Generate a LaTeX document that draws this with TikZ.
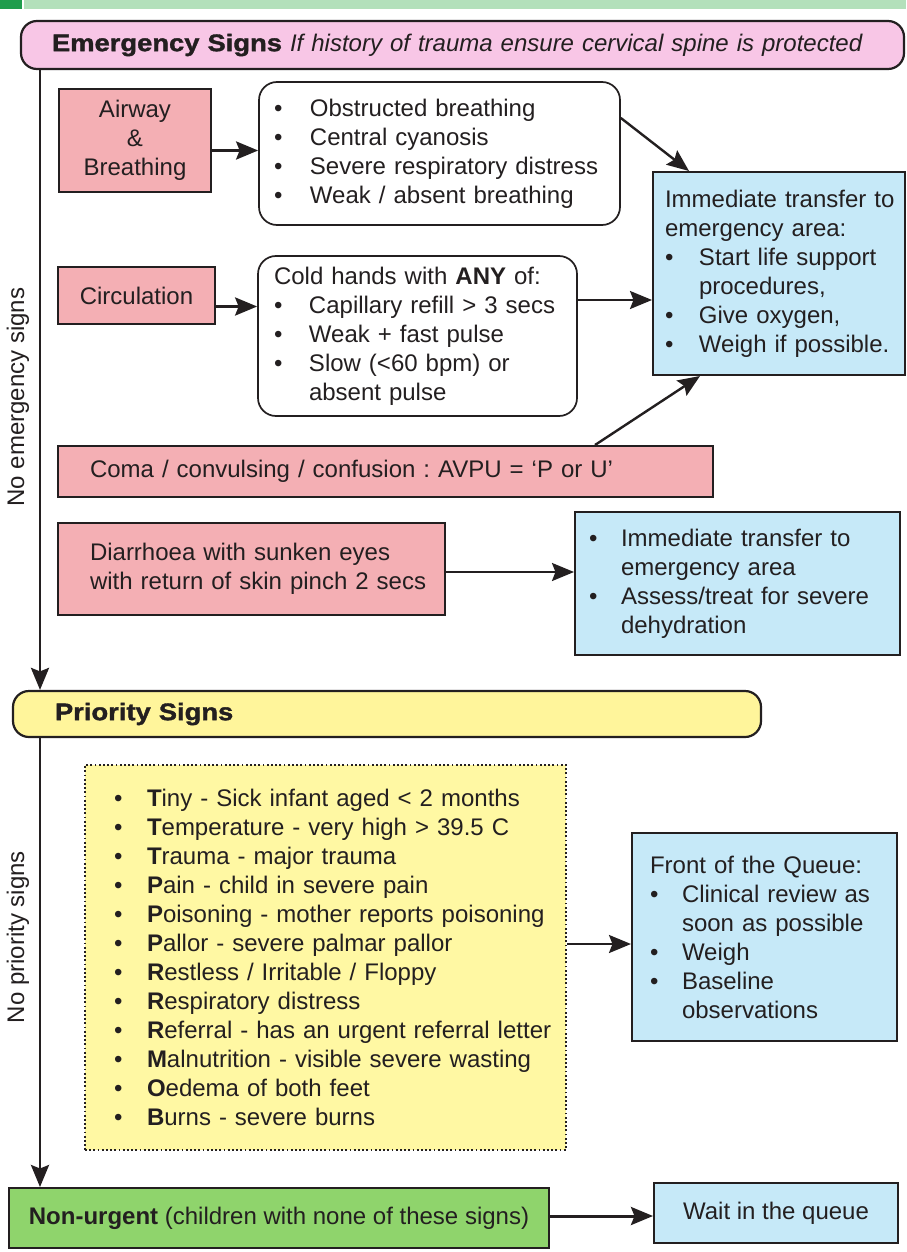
\documentclass[tikz,border=0pt]{standalone}
\usepackage{fontspec}
\setmainfont{Liberation Sans}
\newfontfamily\heavyfont[FakeStretch=1.14,FakeBold=1.5]{Liberation Sans}
\usetikzlibrary{arrows.meta}
\frenchspacing
\definecolor{txt}{HTML}{231F20}
\definecolor{pinkhdr}{HTML}{F8C6E6}
\definecolor{redfill}{HTML}{F4AFB4}
\definecolor{bluefill}{HTML}{C6E9F8}
\definecolor{yelhdr}{HTML}{FFF59B}
\definecolor{yelbox}{HTML}{FFF8A3}
\definecolor{grnfill}{HTML}{8FD46C}
\definecolor{bandlight}{HTML}{B3E0BB}
\definecolor{banddark}{HTML}{1F9D4D}
\newlength\bw
\newcommand\bul[1]{\mbox{\makebox[\bw][l]{\textbullet}#1}}
\newcommand\cont[1]{\mbox{\hspace*{\bw}#1}}
\tikzset{
  base/.style={draw=txt, line width=2pt, inner ysep=0pt, text=txt,
    font=\fontsize{24}{29}\selectfont\frenchspacing},
  redbox/.style={base, fill=redfill},
  whbox/.style={base, fill=white, rounded corners=18pt, line width=1.7pt},
  bluebox/.style={base, fill=bluefill},
  hdrbox/.style={base, rounded corners=16pt, line width=2.2pt},
  arr/.style={draw=txt, line width=2.4pt, -{Stealth[length=22pt,width=18pt,inset=3.5pt]}},
  thickarr/.style={arr, line width=3pt},
  vlabel/.style={rotate=90, text=txt, font=\fontsize{24}{29}\selectfont},
}
\begin{document}
\begin{tikzpicture}[x=1pt,y=-1pt]
\useasboundingbox (0,0) rectangle (906,1252);
\fill[white] (0,0) rectangle (906,1252);
% top band
\fill[banddark] (0,0) rectangle (22,9);
\fill[bandlight] (24,0) rectangle (906,9);

% headers
\node[hdrbox, fill=pinkhdr, minimum width=883pt, minimum height=48pt,
  inner xsep=31pt, text width=821pt, align=left] (hdr) at (462.5,45)
  {{\heavyfont\bfseries Emergency Signs} \textit{If history of trauma ensure cervical spine is protected}};

\node[hdrbox, fill=yelhdr, minimum width=748pt, minimum height=46pt,
  inner xsep=42pt, text width=664pt, align=left] (prio) at (387,714)
  {{\heavyfont\bfseries Priority Signs}};

% emergency section
\node[redbox, minimum width=152pt, minimum height=103pt, align=center] (air) at (135,140.5)
  {Airway\\\&\\Breathing};
\node[whbox, minimum width=361pt, minimum height=143pt, inner xsep=15pt, text width=331pt, align=left]
  (bb1) at (439.5,153.5)
  {\setlength\bw{36pt}\bul{Obstructed breathing}\\\bul{Central cyanosis}\\\bul{Severe respiratory distress}\\\bul{Weak / absent breathing}};

\node[redbox, minimum width=157pt, minimum height=57pt, align=center] (circ) at (136.5,295.5)
  {Circulation};
\node[whbox, minimum width=319pt, minimum height=160pt, inner xsep=16pt, text width=287pt, align=left]
  (bb2) at (417.5,336)
  {\setlength\bw{35pt}\mbox{Cold hands with \textbf{ANY} of:}\\\bul{Capillary refill > 3 secs}\\\bul{Weak + fast pulse}\\\bul{Slow (<60 bpm) or}\\\cont{absent pulse}};

\node[bluebox, minimum width=252pt, minimum height=203pt, inner xsep=12pt, text width=228pt, align=left]
  (blue1) at (779,273.5)
  {\setlength\bw{34pt}\mbox{Immediate transfer to}\\\mbox{emergency area:}\\\bul{Start life support}\\\cont{procedures,}\\\bul{Give oxygen,}\\\bul{Weigh if possible.}};

\node[redbox, minimum width=655pt, minimum height=51pt, inner xsep=32pt, text width=591pt, align=left]
  (coma) at (385.5,471.5)
  {Coma / convulsing / confusion : AVPU = ‘P or U’};

\node[redbox, minimum width=387pt, minimum height=92pt, inner xsep=32pt, text width=323pt, align=left]
  (diar) at (251.5,569)
  {\mbox{Diarrhoea with sunken eyes}\\\mbox{with return of skin pinch 2 secs}};

\node[bluebox, minimum width=325pt, minimum height=143pt, inner xsep=14pt, text width=297pt, align=left]
  (blue2) at (737.5,583.5)
  {\setlength\bw{32pt}\bul{Immediate transfer to}\\\cont{emergency area}\\\bul{Assess/treat for severe}\\\cont{dehydration}};

% priority section
\node[base, fill=yelbox, dash pattern=on 1.8pt off 2.4pt, minimum width=481pt, minimum height=385pt,
  inner xsep=29pt, text width=423pt, align=left] (ylist) at (325.5,957.5)
  {\setlength\bw{33pt}%
   \bul{\textbf{T}iny - Sick infant aged < 2 months}\\
   \bul{\textbf{T}emperature - very high > 39.5 C}\\
   \bul{\textbf{T}rauma - major trauma}\\
   \bul{\textbf{P}ain - child in severe pain}\\
   \bul{\textbf{P}oisoning - mother reports poisoning}\\
   \bul{\textbf{P}allor - severe palmar pallor}\\
   \bul{\textbf{R}estless / Irritable / Floppy}\\
   \bul{\textbf{R}espiratory distress}\\
   \bul{\textbf{R}eferral - has an urgent referral letter}\\
   \bul{\textbf{M}alnutrition - visible severe wasting}\\
   \bul{\textbf{O}edema of both feet}\\
   \bul{\textbf{B}urns - severe burns}};

\node[bluebox, minimum width=265pt, minimum height=208pt, inner xsep=18pt, text width=229pt, align=left]
  (blue3) at (764.5,937)
  {\setlength\bw{32pt}\mbox{Front of the Queue:}\\\bul{Clinical review as}\\\cont{soon as possible}\\\bul{Weigh}\\\bul{Baseline}\\\cont{observations}};

\node[base, fill=grnfill, minimum width=540pt, minimum height=60pt, align=center] (nonurg) at (279,1218)
  {\textbf{Non-urgent} (children with none of these signs)};

\node[bluebox, minimum width=244pt, minimum height=60pt, align=center] (wait) at (776,1213)
  {Wait in the queue};

% side labels
\node[vlabel] (lab1) at (18,397) {No emergency signs};
\node[vlabel] (lab2) at (18,937) {No priority signs};

% connectors
\coordinate (lx) at (40,0);
\draw[arr, line width=2.8pt] (lx |- hdr.south) -- (lx |- prio.north);
\draw[arr, line width=2.8pt] (lx |- prio.south) -- (lx |- nonurg.north);

\coordinate (a1) at ([yshift=-10pt]air.east);
\draw[thickarr] (a1) -- (a1 -| bb1.west);
\coordinate (a2) at ([yshift=-11pt]circ.east);
\draw[thickarr] (a2) -- (a2 -| bb2.west);

\draw[arr] ([yshift=35.5pt]bb1.east) -- ([xshift=37pt]blue1.north west);
\coordinate (a3) at ([yshift=36pt]bb2.east);
\draw[arr] (a3) -- (a3 -| blue1.west);
\draw[arr] ([xshift=209.5pt]coma.north) -- ([xshift=-79pt]blue1.south);

\coordinate (a4) at ([yshift=-3pt]diar.east);
\draw[arr] (a4) -- (a4 -| blue2.west);

\coordinate (a5) at ([yshift=13.5pt]ylist.east);
\draw[arr] (a5) -- (a5 -| blue3.west);

\coordinate (a6) at ([yshift=2pt]nonurg.east);
\draw[thickarr] (a6) -- (a6 -| wait.west);
\end{tikzpicture}
\end{document}
